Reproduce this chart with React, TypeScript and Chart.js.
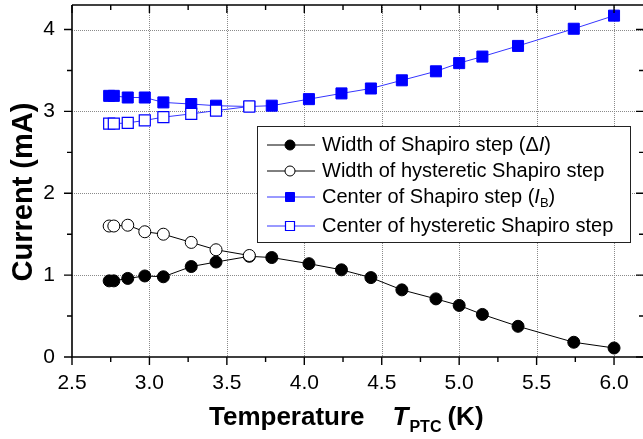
import React, { useEffect, useRef } from 'react';
import { Chart, registerables } from 'chart.js';
Chart.register(...registerables);

// ---- data ----
const temps = [2.74, 2.77, 2.86, 2.97, 3.09, 3.27, 3.43, 3.645, 3.79, 4.03, 4.24, 4.43, 4.63, 4.85, 5.0, 5.15, 5.38, 5.74, 6.0];
const stepWidth = [0.93, 0.93, 0.96, 0.99, 0.98, 1.105, 1.16, 1.23, 1.215, 1.14, 1.065, 0.97, 0.82, 0.71, 0.63, 0.52, 0.375, 0.18, 0.11];
const stepCenter = [3.19, 3.19, 3.17, 3.17, 3.11, 3.09, 3.07, 3.06, 3.07, 3.15, 3.22, 3.28, 3.38, 3.49, 3.59, 3.67, 3.8, 4.01, 4.17];
const hystTemps = [2.74, 2.77, 2.86, 2.97, 3.09, 3.27, 3.43, 3.645];
const hystWidth = [1.6, 1.6, 1.61, 1.53, 1.5, 1.4, 1.31, 1.24];
const hystCenter = [2.85, 2.85, 2.86, 2.89, 2.93, 2.97, 3.01, 3.06];
const xMajorTicks = [2.5, 3.0, 3.5, 4.0, 4.5, 5.0, 5.5, 6.0];
const yMajorTicks = [0, 1, 2, 3, 4];
const seriesLabels = [
  'Width of Shapiro step (ΔI)',
  'Width of hysteretic Shapiro step',
  'Center of Shapiro step (IB)',
  'Center of hysteretic Shapiro step',
];

const FONT = '"Liberation Sans", Arial, Helvetica, sans-serif';
const BLUE = '#0000ff';
const BLUE_LINE = '#3535ff';

const pts = (xs: number[], ys: number[]) => xs.map((x, i) => ({ x, y: ys[i] }));

const plotBox = (chart: any) => {
  const xs = chart.scales.x, ys = chart.scales.y;
  return {
    left: xs.getPixelForValue(xs.min),
    right: xs.getPixelForValue(xs.max),
    top: ys.getPixelForValue(ys.max),
    bottom: ys.getPixelForValue(ys.min),
  };
};

const decorPlugin = {
  id: 'decor',
  beforeDatasetsDraw(chart: any) {
    const { ctx, scales } = chart;
    const a = plotBox(chart);
    const xs = scales.x, ys = scales.y;
    ctx.save();
    ctx.strokeStyle = '#8a8a8a';
    ctx.lineWidth = 1;
    ctx.setLineDash([1, 1]);
    xMajorTicks.forEach((v) => {
      if (v <= xs.min) return;
      const px = Math.round(xs.getPixelForValue(v)) + 0.5;
      ctx.beginPath();
      ctx.moveTo(px, a.top);
      ctx.lineTo(px, a.bottom);
      ctx.stroke();
    });
    yMajorTicks.forEach((v) => {
      if (v <= ys.min) return;
      const py = Math.round(ys.getPixelForValue(v)) + 0.5;
      ctx.beginPath();
      ctx.moveTo(a.left, py);
      ctx.lineTo(a.right, py);
      ctx.stroke();
    });
    ctx.restore();
  },
  afterDatasetsDraw(chart: any) {
    const { ctx, scales } = chart;
    const a = plotBox(chart);
    const xs = scales.x, ys = scales.y;
    ctx.save();
    ctx.strokeStyle = '#000000';
    ctx.setLineDash([]);
    ctx.lineWidth = 1.6;
    ctx.beginPath();
    ctx.moveTo(a.left, a.top);
    ctx.lineTo(a.right, a.top);
    ctx.stroke();
    ctx.beginPath();
    ctx.moveTo(a.left, a.top);
    ctx.lineTo(a.left, a.bottom);
    ctx.lineTo(a.right, a.bottom);
    ctx.stroke();
    ctx.lineWidth = 1.4;
    ctx.beginPath();
    for (let k = 0; k <= 40; k++) {
      const v = 2.5 + k * 0.25;
      if (v > xs.max + 1e-9) break;
      const major = k % 2 === 0;
      const px = xs.getPixelForValue(v);
      const L = major ? 8 : 5;
      ctx.moveTo(px, a.bottom);
      ctx.lineTo(px, a.bottom + L);
      ctx.moveTo(px, a.top);
      ctx.lineTo(px, a.top + L);
    }
    for (let k = 0; k <= 40; k++) {
      const v = k * 0.5;
      if (v > ys.max + 1e-9) break;
      const major = k % 2 === 0;
      const py = ys.getPixelForValue(v);
      const L = major ? 8 : 5;
      ctx.moveTo(a.left, py);
      ctx.lineTo(a.left - L, py);
      ctx.moveTo(a.right, py);
      ctx.lineTo(a.right - (major ? 7 : 4), py);
    }
    ctx.stroke();

    // legend box
    const bx = a.left + 185, by = a.top + 121, bw = 373, bh = 116;
    ctx.fillStyle = '#fff';
    ctx.fillRect(bx, by, bw, bh);
    ctx.lineWidth = 1;
    ctx.strokeStyle = '#222';
    ctx.strokeRect(Math.round(bx) + 0.5, Math.round(by) + 0.5, bw, bh);

    const rows = [by + 19, by + 45, by + 71, by + 100];
    const lx0 = bx + 10, lx1 = bx + 58, mx = bx + 33, tx = bx + 65;
    const ds = chart.data.datasets;
    rows.forEach((ry, i) => {
      const d = ds[i];
      ctx.strokeStyle = d.borderColor;
      ctx.lineWidth = 1;
      ctx.beginPath();
      ctx.moveTo(lx0, ry);
      ctx.lineTo(lx1, ry);
      ctx.stroke();
      ctx.fillStyle = d.pointBackgroundColor;
      ctx.strokeStyle = d.pointBorderColor;
      ctx.lineWidth = d.pointBorderWidth;
      ctx.beginPath();
      if (d.pointStyle === 'circle') {
        ctx.arc(mx, ry, 5, 0, Math.PI * 2);
      } else {
        ctx.rect(mx - 4.5, ry - 4.5, 9, 9);
      }
      ctx.fill();
      ctx.stroke();
    });

    ctx.fillStyle = '#000';
    ctx.textBaseline = 'middle';
    const reg = `20px ${FONT}`;
    const ital = `italic 20px ${FONT}`;
    const drawParts = (parts: { t: string; f: string; dy?: number }[], x: number, y: number) => {
      let cx = x;
      parts.forEach((p) => {
        ctx.font = p.f;
        ctx.fillText(p.t, cx, y + (p.dy || 0));
        cx += ctx.measureText(p.t).width;
      });
    };
    drawParts([{ t: 'Width of Shapiro step (Δ', f: reg }, { t: 'I', f: ital }, { t: ')', f: reg }], tx, rows[0]);
    drawParts([{ t: seriesLabels[1], f: reg }], tx, rows[1]);
    drawParts([
      { t: 'Center of Shapiro step (', f: reg },
      { t: 'I', f: ital },
      { t: 'B', f: `13px ${FONT}`, dy: 6 },
      { t: ')', f: reg },
    ], tx, rows[2]);
    drawParts([{ t: seriesLabels[3], f: reg }], tx, rows[3]);

    // axis titles
    ctx.textBaseline = 'alphabetic';
    const bold = `bold 26px ${FONT}`;
    const boldIt = `italic bold 26px ${FONT}`;
    const sub = `bold 16px ${FONT}`;
    const tparts = [
      { t: 'Temperature', f: bold, dy: 0, gap: 28 },
      { t: 'T', f: boldIt, dy: 0, gap: 1 },
      { t: 'PTC', f: sub, dy: 7, gap: 6 },
      { t: '(K)', f: bold, dy: 0, gap: 0 },
    ];
    let cx = a.left + 137;
    const baseY = a.bottom + 68;
    tparts.forEach((p) => {
      ctx.font = p.f;
      ctx.fillText(p.t, cx, baseY + p.dy);
      cx += ctx.measureText(p.t).width + p.gap;
    });

    ctx.save();
    ctx.translate(32, 192);
    ctx.rotate(-Math.PI / 2);
    ctx.font = `bold 29px ${FONT}`;
    ctx.textAlign = 'center';
    ctx.fillText('Current (mA)', 0, 0);
    ctx.restore();

    ctx.restore();
  },
};

export default function App() {
  const ref = useRef<HTMLCanvasElement | null>(null);
  useEffect(() => {
    document.body.style.margin = '0';
    const canvas = ref.current;
    if (!canvas) return;
    const chart = new Chart(canvas, {
      type: 'scatter',
      data: {
        datasets: [
          {
            label: seriesLabels[0],
            data: pts(temps, stepWidth),
            showLine: true,
            borderColor: '#000',
            borderWidth: 1,
            pointStyle: 'circle',
            pointRadius: 6,
            pointBackgroundColor: '#000',
            pointBorderColor: '#000',
            pointBorderWidth: 1,
            order: 2,
          },
          {
            label: seriesLabels[1],
            data: pts(hystTemps, hystWidth),
            showLine: true,
            borderColor: '#000',
            borderWidth: 1,
            pointStyle: 'circle',
            pointRadius: 6,
            pointBackgroundColor: '#fff',
            pointBorderColor: '#000',
            pointBorderWidth: 1,
            order: 0,
          },
          {
            label: seriesLabels[2],
            data: pts(temps, stepCenter),
            showLine: true,
            borderColor: BLUE_LINE,
            borderWidth: 1,
            pointStyle: 'rect',
            pointRadius: 7.8,
            pointBackgroundColor: BLUE,
            pointBorderColor: BLUE,
            pointBorderWidth: 1,
            order: 3,
          },
          {
            label: seriesLabels[3],
            data: pts(hystTemps, hystCenter),
            showLine: true,
            borderColor: BLUE_LINE,
            borderWidth: 1,
            pointStyle: 'rect',
            pointRadius: 7.8,
            pointBackgroundColor: '#fff',
            pointBorderColor: BLUE,
            pointBorderWidth: 1.2,
            order: 1,
          },
        ],
      },
      options: {
        animation: false,
        responsive: false,
        layout: { autoPadding: false, padding: { top: 5, right: 0, left: 0, bottom: 0 } },
        plugins: { legend: { display: false }, tooltip: { enabled: false } },
        scales: {
          x: {
            type: 'linear',
            bounds: 'data',
            min: 2.5,
            max: 6.187,
            grid: { display: false, drawTicks: false },
            border: { display: false },
            ticks: {
              stepSize: 0.5,
              includeBounds: false,
              autoSkip: false,
              maxRotation: 0,
              padding: 14,
              color: '#000',
              font: { family: FONT, size: 21 },
              callback: (v: any) => Number(v).toFixed(1),
            },
            afterFit: (s: any) => { s.height = 82; s.paddingLeft = 0; s.paddingRight = 0; },
          },
          y: {
            type: 'linear',
            bounds: 'data',
            min: 0,
            max: 4.3,
            grid: { display: false, drawTicks: false },
            border: { display: false },
            ticks: {
              stepSize: 1,
              includeBounds: false,
              padding: 17,
              color: '#000',
              font: { family: FONT, size: 21 },
              callback: (v: any) => String(Math.round(Number(v))),
            },
            afterFit: (s: any) => { s.width = 72; s.paddingTop = 0; s.paddingBottom = 0; },
          },
        },
      },
      plugins: [decorPlugin],
    } as any);
    return () => chart.destroy();
  }, []);
  return <canvas ref={ref} width={643} height={439} style={{ display: 'block' }} />;
}
